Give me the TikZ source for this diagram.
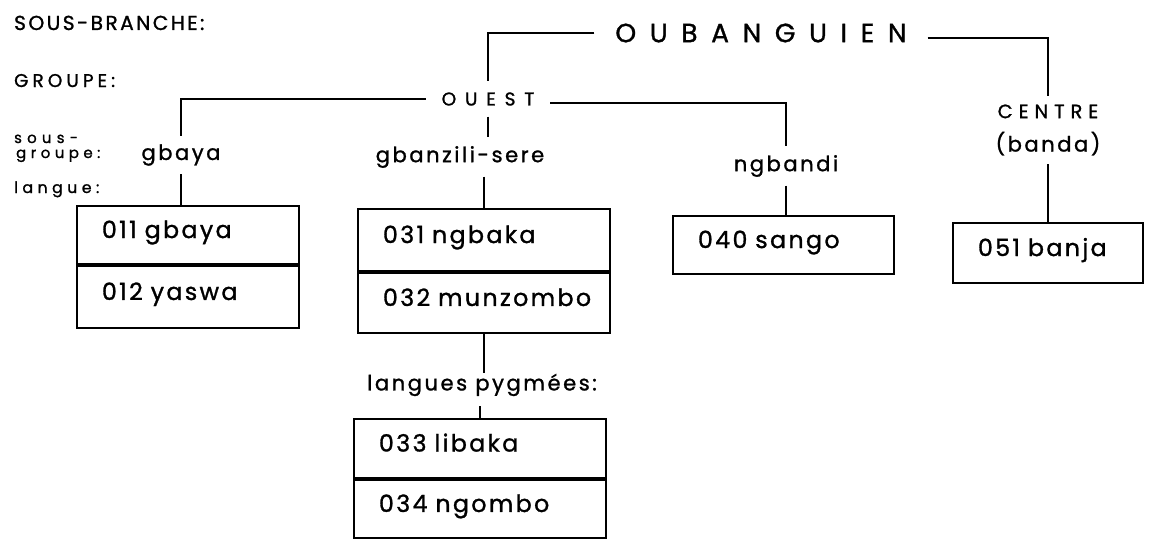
\documentclass[tikz,border=0pt]{standalone}
\usepackage{fontspec}
\setmainfont{Poppins}[FakeBold=1.2]
\usetikzlibrary{positioning}

\begin{document}
\begin{tikzpicture}[x=0.02cm,y=-0.02cm,line width=1.3pt,
    head/.style={font=\fontsize{15}{18}\selectfont\addfontfeatures{LetterSpace=52},inner xsep=0.4cm,inner ysep=0.2cm},
    grp/.style={font=\fontsize{10.5}{12}\selectfont\addfontfeatures{LetterSpace=48},inner xsep=0.3cm,inner ysep=0.2cm},
    sub/.style={font=\fontsize{12}{14}\selectfont\addfontfeatures{LetterSpace=12},inner xsep=0.1cm,inner ysep=0.15cm},
    side/.style={anchor=base west,inner sep=0pt},
    langbox/.style={draw,line width=1.1pt,anchor=north west,inner xsep=0.5cm,inner ysep=0pt,
        align=left,text height=0.6em,text depth=0.25em,
        font=\fontsize{13.5}{16}\selectfont\addfontfeatures{LetterSpace=10}}]
    \useasboundingbox (0,0) rectangle (1152,541);
    % niveaux
    \node[side,font=\fontsize{11.5}{13}\selectfont\addfontfeatures{LetterSpace=12}] (tbranche) at (13,30) {SOUS-BRANCHE:};
    \node[side,font=\fontsize{10.5}{12}\selectfont\addfontfeatures{LetterSpace=22}] (tgroupe) at (13,87) {GROUPE:};
    \node[side,font=\fontsize{8.5}{10}\selectfont\addfontfeatures{LetterSpace=35}] (tsous) at (13,143) {sous-};
    \node[side,font=\fontsize{8.5}{10}\selectfont\addfontfeatures{LetterSpace=30}] (tsgroupe) at (15,158) {groupe:};
    \node[side,font=\fontsize{9}{11}\selectfont\addfontfeatures{LetterSpace=28}] (tlangue) at (13,193) {langue:};
    % arbre
    \node[head] (oubanguien) at (761,33) {OUBANGUIEN};
    \node[grp] (ouest) at (488,99) {OUEST};
    \node[sub,align=center] (centre) at (1048,130) {{\fontsize{11}{12}\selectfont\addfontfeatures{LetterSpace=31}CENTRE}\\[5pt](banda)};
    \node[sub] (gbaya) at (181,155) {gbaya};
    \node[sub] (gbanzili) at (460,157) {gbanzili-sere};
    \node[sub] (ngbandi) at (786,166) {ngbandi};
    \node[sub,inner ysep=0pt] (pygmees) at (482,385) {langues pygmées:};
    % langues
    \node[langbox,text width=3.44cm,minimum height=1.16cm] (box011) at (76,205) {\mbox{011 gbaya}};
    \node[langbox,text width=3.44cm,minimum height=1.24cm,below=0pt of box011] (box012) {\mbox{012 yaswa}};
    \node[langbox,text width=4.04cm,minimum height=1.24cm] (box031) at (357,208) {\mbox{031 ngbaka}};
    \node[langbox,text width=4.04cm,minimum height=1.2cm,below=0pt of box031] (box032) {\mbox{032 munzombo}};
    \node[langbox,text width=3.42cm,minimum height=1.16cm] (box040) at (672,215) {\mbox{040 sango}};
    \node[langbox,text width=2.8cm,minimum height=1.2cm] (box051) at (952,222) {\mbox{051 banja}};
    \node[langbox,text width=4.04cm,minimum height=1.18cm] (box033) at (353,418) {\mbox{033 libaka}};
    \node[langbox,text width=4.04cm,minimum height=1.16cm,below=0pt of box033] (box034) {\mbox{034 ngombo}};
    % liens
    \draw (oubanguien.west) -| (ouest.north);
    \draw ([yshift=-0.1cm]oubanguien.east) -| (centre.north);
    \draw (ouest.west) -| (gbaya.north);
    \draw ([yshift=-0.08cm]ouest.east) -| (ngbandi.north);
    \draw (ouest.south) -- (ouest.south |- gbanzili.north);
    \draw (gbaya.south) -- (gbaya.south |- box011.north);
    \draw (box031.north |- gbanzili.south) -- (box031.north);
    \draw (ngbandi.south) -- (ngbandi.south |- box040.north);
    \draw (centre.south) -- (centre.south |- box051.north);
    \draw (box032.south) -- (box032.south |- pygmees.north);
    \draw ([yshift=-0.18cm]box033.north |- pygmees.south) -- (box033.north);
\end{tikzpicture}
\end{document}
